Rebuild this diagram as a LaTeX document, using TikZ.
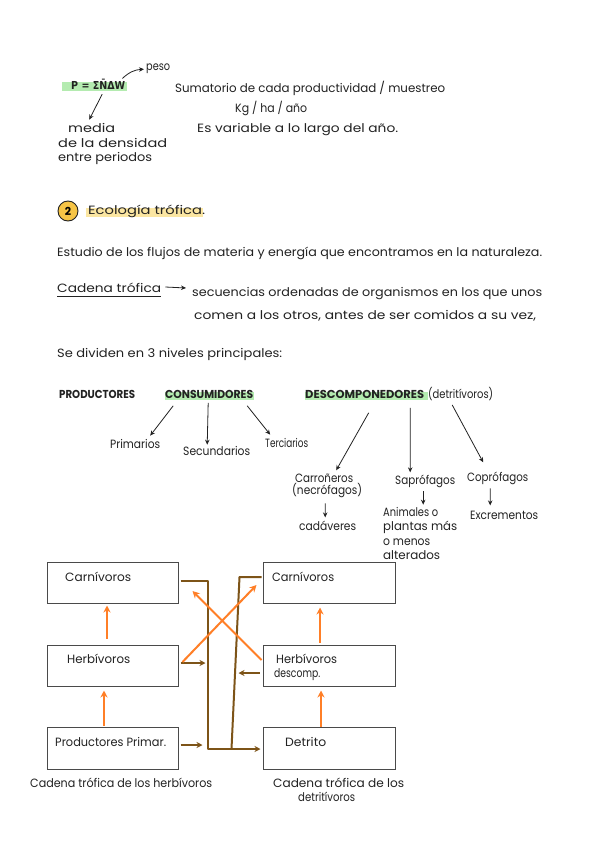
\documentclass[tikz,border=0pt]{standalone}
\usepackage{fontspec}
\usepackage{graphicx}
\setmainfont{Poppins}
\newfontfamily\dvs{DejaVu Sans}
\usetikzlibrary{arrows.meta}
\definecolor{hlgreen}{HTML}{B4EBB0}
\definecolor{hlyellow}{HTML}{FBE6A2}
\definecolor{circyellow}{HTML}{F6C445}
\definecolor{orng}{HTML}{FF7F27}
\definecolor{brwn}{HTML}{7D5418}
\definecolor{ink}{HTML}{222222}
\definecolor{boxgray}{HTML}{4A4A4A}
\newcommand\fw[2]{\resizebox{#1pt}{\height}{#2}}
\begin{document}
\begin{tikzpicture}[x=1pt,y=-1pt,
  hw/.style={inner sep=0pt, anchor=base west, text=ink, font=\fontsize{12}{14}\selectfont},
  hwcap/.style={hw, font=\fontsize{11.5}{13}\selectfont\bfseries},
  harr/.style={-{Stealth[length=5pt,width=4.5pt]}, line width=0.8pt, ink},
  oarr/.style={-{Stealth[length=7pt,width=7pt]}, line width=2pt, orng},
  barr/.style={-{Stealth[length=6pt,width=6pt]}, line width=2pt, brwn},
  bline/.style={line width=2pt, brwn, line join=round},
  box/.style={draw=boxgray, line width=1pt, rectangle, inner sep=0pt},
]
\fill[white] (0,0) rectangle (599,848);
\useasboundingbox (0,0) rectangle (599,848);

% ---- part 1
\fill[hlgreen] (62,82) rectangle (127,91);
\node[hw, font=\dvs\bfseries\fontsize{11}{12}\selectfont] (form) at (71,90) {\fw{54}{P = Σ\={N}ΔW}};
\node[hw] (peso) at (146,71) {\fw{24}{peso}};
\draw[harr] ([shift={(-3,-1)}]form.north east) to[bend left=20] ([shift={(-2,0)}]peso.west);
\node[hw] (m1) at (68,133) {\fw{47}{media}};
\node[hw] (m2) at (58,148) {\fw{109}{de la densidad}};
\node[hw] (m3) at (58,161) {\fw{94}{entre periodos}};
\draw[harr] ([shift={(4,4)}]form.south) -- ([shift={(-2.5,-4)}]m1.north);
\node[hw] (s1) at (175,93) {\fw{270}{Sumatorio de cada productividad / muestreo}};
\node[hw] (s2) at (235,113) {\fw{72}{Kg / ha / año}};
\node[hw] (s3) at (197,133) {\fw{201}{Es variable a lo largo del año.}};

% ---- section 2
\fill[hlyellow] (86,208) rectangle (203,217);
\node[circle, draw=ink, line width=0.9pt, fill=circyellow, minimum size=20pt, inner sep=0pt, font=\fontsize{11}{12}\selectfont\bfseries] (num) at (68,211) {2};
\node[hw] (title) at (88,214) {\fw{117}{Ecología trófica.}};
\node[hw] (est) at (57,256) {\fw{485}{Estudio de los flujos de materia y energía que encontramos en la naturaleza.}};
\node[hw] (ct) at (57,292) {\fw{104}{Cadena trófica}};
\draw[ink, line width=0.8pt] ([shift={(0,4)}]ct.base west) -- ([shift={(0,4)}]ct.base east);
\node[hw] (sq1) at (192,296) {\fw{350}{secuencias ordenadas de organismos en los que unos}};
\node[hw] (sq2) at (194,319) {\fw{342}{comen a los otros, antes de ser comidos a su vez,}};
\draw[harr] ([shift={(4,-5)}]ct.base east) -- ([shift={(-6,-8)}]sq1.base west);
\node[hw] (div) at (57,357) {\fw{225}{Se dividen en 3 niveles principales:}};

% ---- section 3
\fill[hlgreen] (165,392) rectangle (254,400);
\fill[hlgreen] (305,392) rectangle (428,400);
\node[hwcap] (prod) at (59,398.5) {\fw{76}{PRODUCTORES}};
\node[hwcap] (cons) at (165,398.5) {\fw{88}{CONSUMIDORES}};
\node[hwcap] (desc) at (305,398.5) {\fw{119}{DESCOMPONEDORES}};
\node[hw] (detr) at (428,398) {\fw{65}{(detritívoros)}};

\node[hw] (prim) at (110,448) {\fw{50}{Primarios}};
\node[hw] (sec) at (183,455) {\fw{67}{Secundarios}};
\node[hw] (terc) at (265,447) {\fw{43}{Terciarios}};
\draw[harr] ([shift={(-36,7)}]cons.south) -- ([shift={(15,-3)}]prim.north);
\draw[harr] ([shift={(-1,4)}]cons.south) -- ([shift={(-9.5,-1)}]sec.north);
\draw[harr] ([shift={(38,7)}]cons.south) -- ([shift={(-16.5,-3)}]terc.north);

\node[hw] (carr) at (295,482) {\fw{58}{Carroñeros}};
\node[hw] (necro) at (292,494) {\fw{70}{(necrófagos)}};
\node[hw] (cad) at (299,530) {\fw{57}{cadáveres}};
\node[hw] (sap) at (395,484) {\fw{60}{Saprófagos}};
\node[hw] (an1) at (383,516) {\fw{55}{Animales o}};
\node[hw] (an2) at (383,530) {\fw{74}{plantas más}};
\node[hw] (an3) at (383,545) {\fw{47}{o menos}};
\node[hw] (an4) at (383,559) {\fw{57}{alterados}};
\node[hw] (cop) at (467,481) {\fw{61}{Coprófagos}};
\node[hw] (exc) at (470,519) {\fw{68}{Excrementos}};
\draw[harr] ([shift={(4,14)}]desc.south) -- ([shift={(12,-3)}]carr.north);
\draw[harr] ([shift={(45.5,9)}]desc.south) -- ([shift={(-15,-2)}]sap.north);
\draw[harr] ([shift={(-8.5,4.5)}]detr.south) -- ([shift={(-14.5,-9)}]cop.north);
\draw[harr] ([shift={(-2,6)}]necro.south) -- ([shift={(-2.5,-3)}]cad.north);
\draw[harr] ([shift={(-2,4)}]sap.south) -- ([shift={(12.5,-2)}]an1.north);
\draw[harr] ([shift={(-7.5,4)}]cop.south) -- ([shift={(-14,-5)}]exc.north);

% ---- food chain boxes
\node[box, minimum width=131pt, minimum height=41pt] (lc) at (112.5,582.5) {};
\node[box, minimum width=131pt, minimum height=41pt] (lh) at (112.5,665.5) {};
\node[box, minimum width=131pt, minimum height=42pt] (lp) at (112.5,748) {};
\node[box, minimum width=132pt, minimum height=41pt] (rc) at (329,582.5) {};
\node[box, minimum width=132pt, minimum height=41pt] (rh) at (329,665.5) {};
\node[box, minimum width=132pt, minimum height=42pt] (rd) at (329,748) {};

\node[hw] (lct) at (65,581) {\fw{66}{Carnívoros}};
\node[hw] (lht) at (67,663) {\fw{63}{Herbívoros}};
\node[hw] (lpt) at (55,746) {\fw{111}{Productores Primar.}};
\node[hw] (rct) at (272,581) {\fw{62}{Carnívoros}};
\node[hw] (rht1) at (276,663) {\fw{61}{Herbívoros}};
\node[hw] (rht2) at (274,677) {\fw{46}{descomp.}};
\node[hw] (rdt) at (285,746) {\fw{41}{Detrito}};

% brown flows
\draw[bline, -{Stealth[length=6pt,width=6pt]}] ([shift={(2,-1.5)}]lc.east) -- ++(27,0) -- ++(0,168) -- ([shift={(-2,1)}]rd.west);
\draw[bline] ([shift={(-1,-5.5)}]rc.west) -- ++(-22,0) -- ++(-8,172);
\draw[barr] ([shift={(2,-2.5)}]lh.east) -- ++(25,0);
\draw[barr] ([shift={(2,-3)}]lp.east) -- ++(22,0);
\draw[barr] ([shift={(-3,7.5)}]rh.west) -- ++(-21,0);

% orange flows
\draw[oarr] ([shift={(-5.5,-6)}]lh.north) -- ([shift={(-5.5,2)}]lc.south);
\draw[oarr] ([shift={(-8.5,-1)}]lp.north) -- ([shift={(-8.5,4)}]lh.south);
\draw[oarr] ([shift={(-9,-2)}]rh.north) -- ([shift={(-9,4)}]rc.south);
\draw[oarr] ([shift={(-8,0)}]rd.north) -- ([shift={(-8,4)}]rh.south);
\draw[oarr] ([shift={(4,-3.5)}]lh.east) -- ([shift={(-6,2.5)}]rc.west);
\draw[oarr] ([shift={(-1,-5.5)}]rh.west) -- ([shift={(14,8.5)}]lc.east);

% captions
\node[hw] (cap1) at (30,787) {\fw{182}{Cadena trófica de los herbívoros}};
\node[hw] (cap2) at (273,787) {\fw{131}{Cadena trófica de los}};
\node[hw] (cap3) at (298,801) {\fw{57}{detritívoros}};
\end{tikzpicture}
\end{document}
